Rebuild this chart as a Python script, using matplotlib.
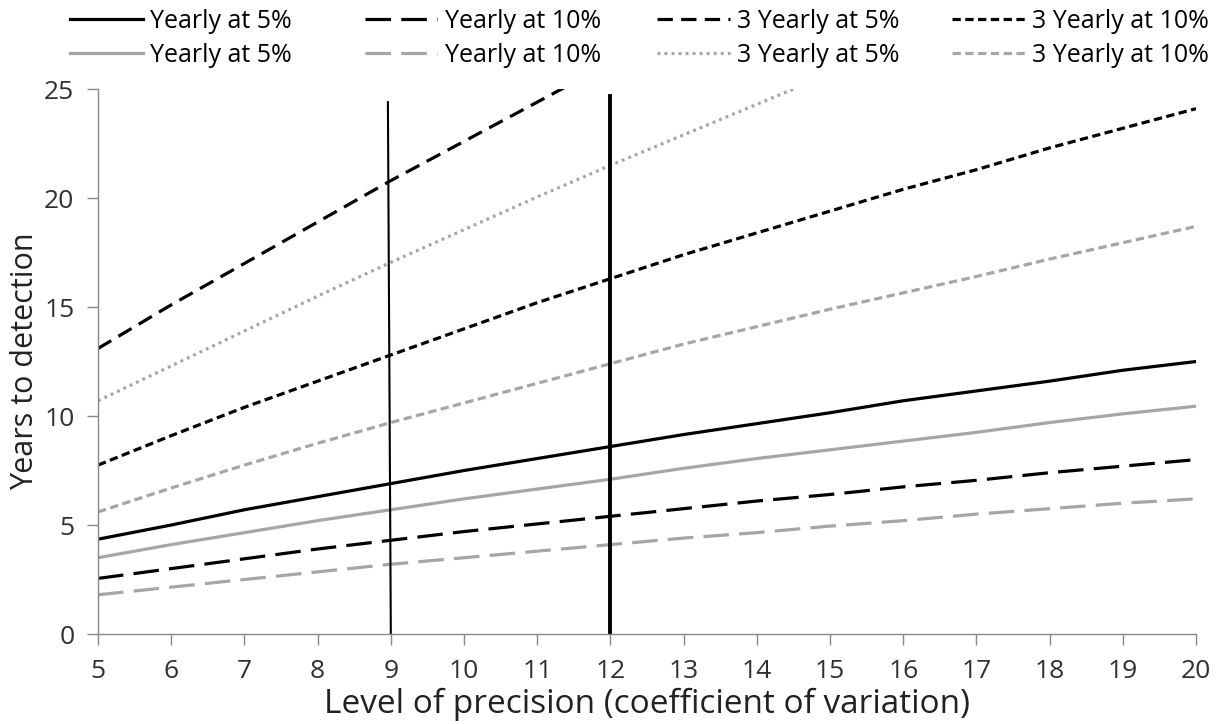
import matplotlib
matplotlib.use("Agg")
import matplotlib.pyplot as plt

plt.rcParams["font.family"] = ["Open Sans", "DejaVu Sans"]

cv = [5, 6, 7, 8, 9, 10, 11, 12, 13, 14, 15, 16, 17, 18, 19, 20]

# black series
yearly5_a = [4.35, 5.0, 5.7, 6.3, 6.9, 7.5, 8.05, 8.6, 9.15, 9.65, 10.15, 10.7, 11.15, 11.6, 12.1, 12.5]
yearly10_a = [2.55, 3.0, 3.45, 3.9, 4.3, 4.7, 5.05, 5.4, 5.75, 6.1, 6.4, 6.75, 7.05, 7.4, 7.7, 8.0]
tri5_a = [13.1, 15.1, 17.0, 18.9, 20.8, 22.6, 24.4, 26.2]
tri10_a = [7.75, 9.1, 10.4, 11.6, 12.8, 14.0, 15.2, 16.3, 17.4, 18.4, 19.4, 20.4, 21.3, 22.3, 23.2, 24.1]

# grey series
yearly5_b = [3.5, 4.1, 4.65, 5.2, 5.7, 6.2, 6.65, 7.1, 7.6, 8.05, 8.45, 8.85, 9.25, 9.7, 10.1, 10.45]
yearly10_b = [1.8, 2.15, 2.5, 2.85, 3.2, 3.5, 3.8, 4.1, 4.4, 4.65, 4.95, 5.2, 5.5, 5.75, 6.0, 6.2]
tri5_b = [10.7, 12.3, 13.9, 15.5, 17.05, 18.55, 20.05, 21.5, 22.9, 24.3, 25.7]
tri10_b = [5.6, 6.7, 7.75, 8.75, 9.7, 10.6, 11.5, 12.4, 13.3, 14.1, 14.9, 15.65, 16.4, 17.2, 17.95, 18.7]

# reference lines at CV 9 and 12
thin_x = [8.96, 9.0]
thin_y = [24.4, 0]
thick_x = [12, 12]
thick_y = [24.7, 0]

black = "black"
grey = "#a6a6a6"
lw = 2.3

fig = plt.figure(figsize=(12.21, 7.24), dpi=100)
ax = fig.add_axes([0.0803, 0.1243, 0.8992, 0.7527])

h = []
h += ax.plot(cv, yearly5_a, color=black, lw=lw, label="Yearly at 5%")
h += ax.plot(cv, yearly5_b, color=grey, lw=lw, label="Yearly at 5%")
h += ax.plot(cv, yearly10_a, color=black, lw=lw, dashes=(8, 3.2), label="Yearly at 10%")
h += ax.plot(cv, yearly10_b, color=grey, lw=lw, dashes=(8, 3.2), label="Yearly at 10%")
h += ax.plot(cv[:len(tri5_a)], tri5_a, color=black, lw=lw, dashes=(4.8, 2.6), label="3 Yearly at 5%")
h += ax.plot(cv[:len(tri5_b)], tri5_b, color=grey, lw=lw, dashes=(0.9, 1.3), label="3 Yearly at 5%")
h += ax.plot(cv, tri10_a, color=black, lw=lw, dashes=(2.6, 1.4), label="3 Yearly at 10%")
h += ax.plot(cv, tri10_b, color=grey, lw=lw, dashes=(2.6, 1.4), label="3 Yearly at 10%")

ax.plot(thin_x, thin_y, color=black, lw=1.5)
ax.plot(thick_x, thick_y, color=black, lw=2.8)

ax.set_xlim(5, 20)
ax.set_ylim(0, 25)
ax.set_xticks(range(5, 21))
ax.set_yticks(range(0, 26, 5))
for side in ["top", "right"]:
    ax.spines[side].set_visible(False)
for side in ["left", "bottom"]:
    ax.spines[side].set_color("#898989")
    ax.spines[side].set_linewidth(1.0)
ax.tick_params(axis="both", colors="#898989", labelcolor="#303030",
               labelsize=19, length=8, width=1.0)
ax.tick_params(axis="x", pad=10)
ax.tick_params(axis="y", pad=9)

ax.set_xlabel("Level of precision (coefficient of variation)", fontsize=24, color="#222222", labelpad=3)
ax.set_ylabel("Years to detection", fontsize=22, color="#222222", labelpad=3)

# legend: one column of two entries per legend group, as in the source chart
col_x = [70, 365, 657, 952]
for i in range(4):
    leg = fig.legend(handles=h[2 * i:2 * i + 2], loc="upper left",
                     bbox_to_anchor=(col_x[i] / 1221, 0.988), frameon=False,
                     fontsize=18, handlelength=2.9, handletextpad=0.3,
                     labelspacing=0.36, borderpad=0, borderaxespad=0)

fig.savefig("out.png", dpi=100)
